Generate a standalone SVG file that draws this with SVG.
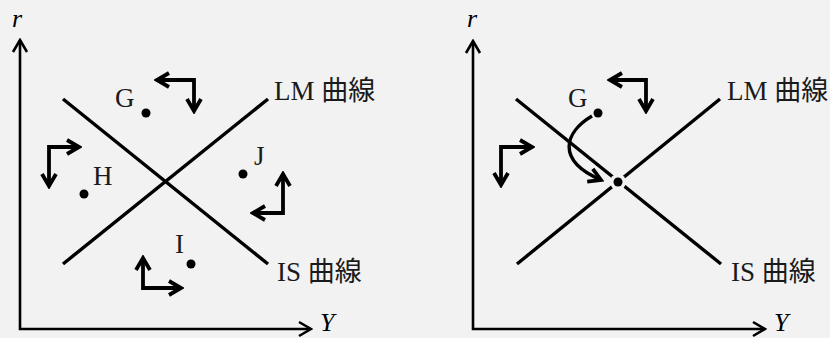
<svg xmlns="http://www.w3.org/2000/svg" width="830" height="338" viewBox="0 0 830 338">
<style>
.bg{fill:#f2f2f2}
.ax{fill:none;stroke:#000;stroke-width:2.6}
.cv{fill:none;stroke:#000;stroke-width:3.4}
.ar{fill:none;stroke:#000;stroke-width:3.8;stroke-linejoin:miter}
.dot{fill:#000}
.t{font-family:"Liberation Serif","Noto Sans CJK JP",serif;font-size:27px;fill:#1a1a1a}
.i{font-family:"Liberation Serif",serif;font-style:italic;font-size:26px;fill:#000}
</style>
<defs>
<marker id="ah" markerUnits="userSpaceOnUse" viewBox="-14 -9 16 18" refX="0" refY="0" markerWidth="16" markerHeight="18" orient="auto-start-reverse">
<path d="M-12,-7 L0,0 L-12,7" fill="none" stroke="#000" stroke-width="2.6"/>
</marker>
<marker id="bh" markerUnits="userSpaceOnUse" viewBox="-15 -10 18 20" refX="0" refY="0" markerWidth="18" markerHeight="20" orient="auto-start-reverse">
<path d="M-12,-7 L0,0 L-12,7" fill="none" stroke="#000" stroke-width="3.8"/>
</marker>
</defs>
<rect class="bg" x="0" y="0" width="830" height="338"/>
<g id="connectors">
<path class="ax" d="M20,40 L20,329 L311,329" marker-start="url(#ah)" marker-end="url(#ah)"/>
<path class="ax" d="M473,41 L473,329 L765,329" marker-start="url(#ah)" marker-end="url(#ah)"/>
<line id="is-left" class="cv" x1="63" y1="99" x2="268" y2="264"/>
<line id="lm-left" class="cv" x1="63" y1="264" x2="268" y2="99"/>
<line id="is-right" class="cv" x1="516" y1="99" x2="721" y2="264"/>
<line id="lm-right" class="cv" x1="517" y1="264" x2="720" y2="99"/>
<path class="ar" d="M157,80 L194,80 L194,111" marker-start="url(#bh)" marker-end="url(#bh)"/>
<path class="ar" d="M49,186 L49,147 L79,147" marker-start="url(#bh)" marker-end="url(#bh)"/>
<path class="ar" d="M253,213 L283,213 L283,174" marker-start="url(#bh)" marker-end="url(#bh)"/>
<path class="ar" d="M143,258 L143,288 L181,288" marker-start="url(#bh)" marker-end="url(#bh)"/>
<path class="ar" d="M610,80 L646,80 L646,111" marker-start="url(#bh)" marker-end="url(#bh)"/>
<path class="ar" d="M501,185 L501,147 L532,147" marker-start="url(#bh)" marker-end="url(#bh)"/>
<path class="cv" d="M592,116 C565,132 555,160 601,180" marker-end="url(#bh)"/>
</g>
<g id="axis-labels">
<text class="i" x="12" y="27">r</text>
<text class="i" x="320" y="331">Y</text>
<text class="i" x="774" y="331">Y</text>
<text class="i" x="467" y="27">r</text>
</g>
<g id="curve-labels">
<text class="t" x="274" y="100">LM 曲線</text>
<text class="t" x="277" y="281">IS 曲線</text>
<text class="t" x="727" y="100">LM 曲線</text>
<text class="t" x="731" y="281">IS 曲線</text>
</g>
<g id="node-G"><text class="t" x="115" y="107">G</text><circle class="dot" cx="146" cy="113" r="4.5"/></g>
<g id="node-H"><text class="t" x="93" y="185">H</text><circle class="dot" cx="84" cy="194" r="4.5"/></g>
<g id="node-J"><text class="t" x="254" y="165">J</text><circle class="dot" cx="243" cy="174" r="4.5"/></g>
<g id="node-I"><text class="t" x="175" y="253">I</text><circle class="dot" cx="191" cy="264" r="4.5"/></g>
<g id="node-G2"><text class="t" x="568" y="107">G</text><circle class="dot" cx="598" cy="113" r="4.5"/></g>
<g id="node-E"><circle class="bg" cx="618" cy="182" r="8"/><circle class="dot" cx="618" cy="182" r="4.5"/></g>
</svg>
